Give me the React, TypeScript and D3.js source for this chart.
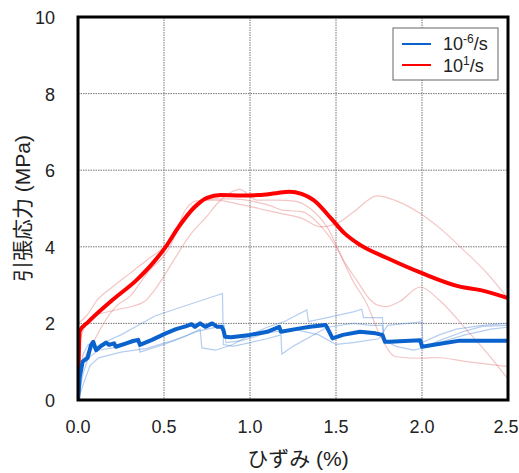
import React from "react";
import * as d3 from "d3";

type P = [number, number];

const xTicks = [0, 0.5, 1.0, 1.5, 2.0, 2.5];
const yTicks = [0, 2, 4, 6, 8, 10];

const blueMain: P[] = [
  [0, 0], [0.01, 0.6], [0.027, 1.0], [0.056, 1.1], [0.076, 1.44], [0.089, 1.52], [0.105, 1.3],
  [0.134, 1.41], [0.163, 1.5], [0.18, 1.44], [0.21, 1.48], [0.22, 1.39], [0.28, 1.48],
  [0.32, 1.54], [0.35, 1.57], [0.36, 1.44], [0.43, 1.57], [0.51, 1.74], [0.57, 1.85],
  [0.63, 1.93], [0.66, 1.98], [0.68, 1.91], [0.71, 2.0], [0.74, 1.91], [0.78, 2.0],
  [0.81, 1.91], [0.835, 1.91], [0.845, 1.83], [0.855, 1.65], [0.89, 1.64], [1.0, 1.7],
  [1.1, 1.78], [1.17, 1.91], [1.18, 1.78], [1.29, 1.87], [1.35, 1.91], [1.44, 1.96],
  [1.455, 1.83], [1.48, 1.61], [1.54, 1.7], [1.64, 1.78], [1.73, 1.74], [1.77, 1.7],
  [1.785, 1.52], [1.81, 1.52], [1.99, 1.56], [2.0, 1.39], [2.07, 1.44], [2.22, 1.55],
  [2.36, 1.55], [2.5, 1.55],
];

const blueFaint1: P[] = [
  [0, 0], [0.01, 0.6], [0.03, 1.2], [0.06, 1.45], [0.09, 1.35], [0.15, 1.5], [0.25, 1.7],
  [0.35, 1.95], [0.45, 2.2], [0.55, 2.35], [0.65, 2.5], [0.84, 2.78], [0.845, 1.45],
  [0.9, 1.4], [1.0, 1.5], [1.1, 1.6], [1.18, 1.7], [1.185, 1.2], [1.25, 1.4], [1.35, 1.65],
  [1.45, 1.9], [1.6, 2.0], [1.7, 1.95], [1.77, 1.95], [1.78, 1.5], [1.85, 1.5], [1.95, 1.55],
  [2.0, 1.5], [2.1, 1.7], [2.2, 1.85], [2.35, 1.95], [2.5, 2.0],
];

const blueFaint2: P[] = [
  [0, 0], [0.03, 0.7], [0.06, 1.1], [0.12, 1.3], [0.25, 1.4], [0.35, 1.55], [0.36, 1.25],
  [0.5, 1.45], [0.62, 1.65], [0.71, 1.85], [0.72, 1.36], [0.8, 1.3], [0.9, 1.45], [1.0, 1.7],
  [1.1, 1.9], [1.2, 2.05], [1.33, 2.35], [1.34, 2.05], [1.45, 2.15], [1.6, 2.3], [1.65, 2.37],
  [1.66, 2.15], [1.77, 2.15], [1.78, 1.55], [1.85, 1.4], [1.95, 1.3], [2.0, 1.35], [2.1, 1.55],
  [2.25, 1.8], [2.35, 1.92], [2.5, 1.95],
];

const blueFaint3: P[] = [
  [0, 0], [0.03, 0.4], [0.07, 0.9], [0.12, 1.1], [0.25, 1.25], [0.4, 1.35], [0.55, 1.55],
  [0.7, 1.8], [0.85, 1.95], [0.86, 1.5], [0.95, 1.55], [1.1, 1.75], [1.25, 1.85], [1.4, 1.7],
  [1.5, 1.45], [1.6, 1.5], [1.75, 1.6], [1.8, 1.95], [2.0, 2.04], [2.005, 1.4], [2.1, 1.5],
  [2.25, 1.7], [2.4, 1.85], [2.5, 1.9],
];

const redMain: P[] = [
  [0, 0], [0.005, 1.2], [0.01, 1.8], [0.06, 2.04], [0.2, 2.61], [0.34, 3.13], [0.44, 3.6],
  [0.51, 4.0], [0.59, 4.55], [0.67, 5.0], [0.75, 5.28], [0.83, 5.35], [0.95, 5.34],
  [1.05, 5.35], [1.15, 5.4], [1.23, 5.44], [1.3, 5.38], [1.37, 5.22], [1.47, 4.75],
  [1.55, 4.35], [1.64, 4.05], [1.8, 3.7], [2.0, 3.31], [2.22, 2.96], [2.34, 2.87], [2.5, 2.66],
];

const redFaint1: P[] = [
  [0, 2.0], [0.05, 2.2], [0.11, 2.6], [0.2, 2.95], [0.3, 3.3], [0.4, 3.65], [0.5, 4.0],
  [0.6, 4.6], [0.69, 5.15], [0.8, 5.25], [0.9, 5.25], [1.0, 5.2], [1.1, 5.1], [1.2, 4.95],
  [1.3, 4.92], [1.4, 4.6], [1.5, 4.0], [1.6, 3.1], [1.68, 2.5], [1.76, 1.65], [1.85, 1.13],
  [2.0, 1.09], [2.08, 1.11], [2.26, 1.0], [2.5, 0.87],
];

const redFaint2: P[] = [
  [0, 1.1], [0.02, 1.7], [0.1, 2.2], [0.22, 2.35], [0.38, 2.55], [0.45, 2.9], [0.55, 3.6],
  [0.65, 4.3], [0.75, 4.8], [0.81, 5.13], [0.88, 5.4], [0.94, 5.5], [1.04, 5.22],
  [1.15, 5.22], [1.25, 5.2], [1.35, 5.0], [1.45, 4.5], [1.55, 3.6], [1.62, 3.13],
  [1.7, 2.61], [1.74, 2.48], [1.79, 2.44], [1.87, 2.57], [1.99, 2.95], [2.1, 2.61],
  [2.26, 1.83], [2.38, 1.22], [2.5, 0.55],
];

const redFaint3: P[] = [
  [0, 0.3], [0.02, 0.78], [0.1, 1.6], [0.22, 2.44], [0.3, 2.7], [0.4, 3.3], [0.535, 4.0],
  [0.63, 5.0], [0.69, 5.2], [0.8, 5.22], [0.95, 5.1], [1.05, 5.0], [1.17, 4.88], [1.3, 4.75],
  [1.41, 4.52], [1.5, 4.6], [1.6, 4.9], [1.74, 5.33], [1.85, 5.2], [1.99, 4.87], [2.1, 4.5],
  [2.24, 3.92], [2.38, 3.3], [2.5, 2.65],
];

const faintBlue = [blueFaint1, blueFaint2, blueFaint3];
const faintRed = [redFaint1, redFaint2, redFaint3];

const W = 519;
const H = 473;
const left = 78;
const right = 508;
const top = 17;
const bottom = 400;

export default function App() {
  const x = d3.scaleLinear().domain([0, 2.5]).range([left, right]);
  const y = d3.scaleLinear().domain([0, 10]).range([bottom, top]);
  const line = d3
    .line<P>()
    .x((d) => x(d[0]))
    .y((d) => y(d[1]));
  const smooth = d3
    .line<P>()
    .x((d) => x(d[0]))
    .y((d) => y(d[1]))
    .curve(d3.curveMonotoneX);
  const font = "Arial, 'Liberation Sans', 'Noto Sans CJK JP', sans-serif";

  return (
    <svg
      width={W}
      height={H}
      style={{ position: "absolute", left: 0, top: 0, background: "#fff" }}
      fontFamily={font}
    >
      <defs>
        <clipPath id="plot">
          <rect x={left} y={top} width={right - left} height={bottom - top} />
        </clipPath>
      </defs>
      {xTicks.slice(1, -1).map((t) => (
        <line
          key={"gx" + t}
          x1={x(t)}
          x2={x(t)}
          y1={top}
          y2={bottom}
          stroke="#777"
          strokeWidth={1}
          strokeDasharray="1.5,1"
        />
      ))}
      {yTicks.slice(1, -1).map((t) => (
        <line
          key={"gy" + t}
          x1={left}
          x2={right}
          y1={y(t)}
          y2={y(t)}
          stroke="#777"
          strokeWidth={1}
          strokeDasharray="1.5,1"
        />
      ))}
      <g clipPath="url(#plot)">
        {faintRed.map((d, i) => (
          <path
            key={"fr" + i}
            d={smooth(d) || ""}
            fill="none"
            stroke="rgba(225,110,110,0.4)"
            strokeWidth={1.2}
          />
        ))}
        {faintBlue.map((d, i) => (
          <path
            key={"fb" + i}
            d={line(d) || ""}
            fill="none"
            stroke="rgba(90,145,220,0.45)"
            strokeWidth={1.2}
          />
        ))}
        <path d={smooth(redMain) || ""} fill="none" stroke="#ff0000" strokeWidth={4} strokeLinejoin="round" />
        <path d={line(blueMain) || ""} fill="none" stroke="#0a62cc" strokeWidth={4} strokeLinejoin="round" />
      </g>
      <rect
        x={left}
        y={top}
        width={right - left}
        height={bottom - top}
        fill="none"
        stroke="#000"
        strokeWidth={3}
      />
      {xTicks.map((t) => (
        <text
          key={"xt" + t}
          x={t === 2.5 ? x(t) - 2 : x(t)}
          y={433}
          textAnchor="middle"
          fontSize={18}
          fill="#222"
        >
          {t.toFixed(1)}
        </text>
      ))}
      {yTicks.map((t) => (
        <text
          key={"yt" + t}
          x={55}
          y={y(t) + 7}
          textAnchor="end"
          fontSize={18}
          fill="#222"
        >
          {t}
        </text>
      ))}
      <text x={298} y={466} textAnchor="middle" fontSize={21} fill="#222">
        ひずみ (%)
      </text>
      <text
        transform={`translate(30,${(top + bottom) / 2}) rotate(-90)`}
        textAnchor="middle"
        fontSize={21}
        fill="#222"
      >
        引張応力 (MPa)
      </text>
      <rect x={393} y={28} width={105} height={52} fill="#fff" stroke="#666" strokeWidth={1} />
      <line x1={402} x2={431} y1={44} y2={44} stroke="#0a62cc" strokeWidth={2} />
      <line x1={402} x2={431} y1={65} y2={65} stroke="#ff0000" strokeWidth={2} />
      <text x={443} y={50} fontSize={18} fill="#222">
        10<tspan dy={-7} fontSize={12}>-6</tspan>
        <tspan dy={7}>/s</tspan>
      </text>
      <text x={443} y={72} fontSize={18} fill="#222">
        10<tspan dy={-7} fontSize={12}>1</tspan>
        <tspan dy={7}>/s</tspan>
      </text>
    </svg>
  );
}
